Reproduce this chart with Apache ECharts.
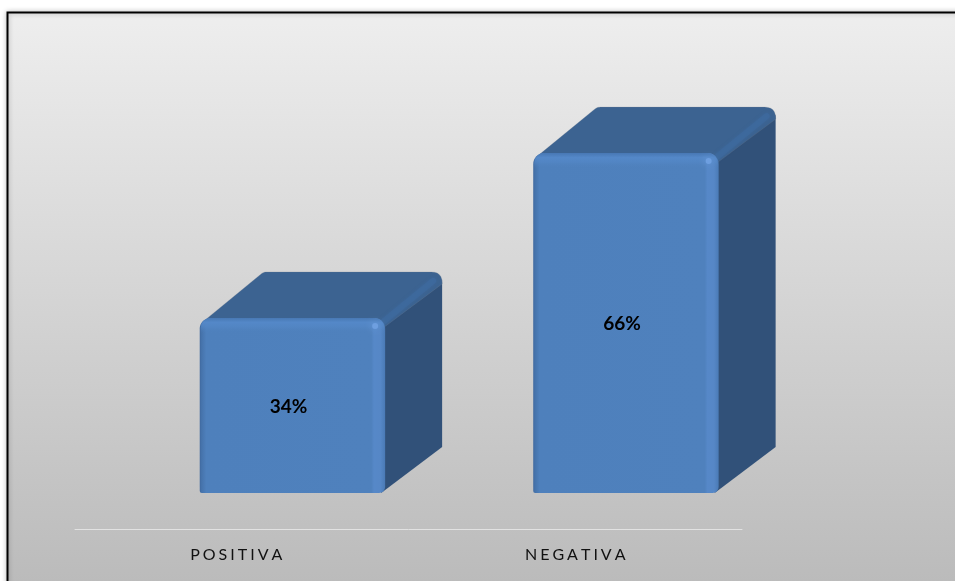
<!DOCTYPE html>
<html><head><meta charset="utf-8">
<style>html,body{margin:0;padding:0;background:#fff}#c{width:955px;height:581px}</style>
<script src="https://cdn.jsdelivr.net/npm/echarts@6/dist/echarts.min.js"></script>
</head><body><div id="c"></div>
<script>
var categories = ['POSITIVA', 'NEGATIVA'];
var values = [34, 66];
var labels = ['34%', '66%'];

function lin(x0, y0, x1, y1, stops) {
  return new echarts.graphic.LinearGradient(x0, y0, x1, y1, stops.map(function (s) { return { offset: s[0], color: s[1] }; }));
}
function roundPoly(pts, radii) {
  var out = [], n = pts.length;
  pts.forEach(function (p, i) {
    var r = radii[i];
    if (!r) { out.push(p); return; }
    var a = pts[(i + n - 1) % n], b = pts[(i + 1) % n];
    var la = Math.hypot(a[0] - p[0], a[1] - p[1]), lb = Math.hypot(b[0] - p[0], b[1] - p[1]);
    var s = [p[0] + (a[0] - p[0]) * r / la, p[1] + (a[1] - p[1]) * r / la];
    var e = [p[0] + (b[0] - p[0]) * r / lb, p[1] + (b[1] - p[1]) * r / lb];
    for (var k = 0; k <= 6; k++) {
      var t = k / 6, u = 1 - t;
      out.push([u * u * s[0] + 2 * u * t * p[0] + t * t * e[0], u * u * s[1] + 2 * u * t * p[1] + t * t * e[1]]);
    }
  });
  return out;
}
function renderBar(params, api) {
  var idx = api.value(0), val = api.value(1);
  var base = api.coord([idx, 0]), top = api.coord([idx, val]);
  var band = api.size([1, 0])[0];
  var w = band * 0.556, shiftX = band * 0.152, shiftY = -36, dx = 57, dy = -46;
  var x0 = base[0] + shiftX - w / 2, x1 = x0 + w;
  var yb = base[1] + shiftY, yt = top[1] + shiftY;
  var h = yb - yt;
  return {
    type: 'group',
    children: [
      { type: 'polygon', shape: { points: [[x1 - 4, yb], [x1 + dx, yb + dy], [x1 + dx, yt + dy + 8], [x1 - 6, yt + 6]] },
        style: { fill: '#315179' } },
      { type: 'polygon', shape: { points: roundPoly([[x0 + 3, yt + 4], [x0 + dx + 7, yt + dy], [x1 + dx, yt + dy], [x1 + dx, yt + dy + 12], [x1 - 2, yt + 10]], [0, 3, 11, 0, 0]) },
        style: { fill: '#3c6391', stroke: 'rgba(120,130,145,0.45)', lineWidth: 0.5 } },
      { type: 'line', shape: { x1: x1 - 2, y1: yt + 4, x2: x1 + dx - 9, y2: yt + dy + 9 },
        style: { stroke: '#3d6a9d', lineWidth: 6, lineCap: 'round', opacity: 0.75, shadowBlur: 3, shadowColor: '#3d6a9d' } },
      { type: 'rect', shape: { x: x0, y: yt, width: w, height: h, r: [11, 11, 6, 2] },
        style: { fill: lin(0, 0, 1, 0, [[0, '#3f689e'], [0.008, '#4572aa'], [0.035, '#4e80bc'], [0.925, '#4f81bd'], [0.94, '#5688c8'], [0.975, '#5687c6'], [1, '#4a7ab5']]) } },
      { type: 'rect', shape: { x: x0 + 1, y: yt, width: w - 2, height: 15, r: [10, 10, 0, 0] },
        style: { fill: lin(0, 0, 0, 1, [[0, '#4878b4'], [0.3, '#5488c8'], [0.6, 'rgba(84,136,200,0.6)'], [1, 'rgba(79,129,189,0)']]) } },
      { type: 'circle', shape: { cx: x1 - 10, cy: yt + 8, r: 3 },
        style: { fill: '#6e9fe0', shadowBlur: 7, shadowColor: '#6e9fe0' } },
      { type: 'text', x: x0 + w / 2 - 4, y: yt + h / 2 + 1,
        style: { text: labels[idx], font: 'bold 19px Lato', fill: '#000', align: 'center', verticalAlign: 'middle' } }
    ]
  };
}

var chart = echarts.init(document.getElementById('c'), null, { renderer: 'canvas' });
chart.setOption({
  animation: false,
  backgroundColor: '#ffffff',
  graphic: [{
    type: 'rect', z: -1, silent: true,
    shape: { x: 7.5, y: 12.5, width: 960, height: 580 },
    style: { fill: lin(0, 0, 0, 1, [[0, '#eeeeee'], [1, '#bababa']]), stroke: '#000', lineWidth: 2, shadowBlur: 5, shadowColor: 'rgba(0,0,0,0.3)' }
  }],
  grid: { left: 75, right: 213, top: 14, bottom: 52 },
  xAxis: {
    type: 'category',
    data: [{ value: categories[0], textStyle: { padding: [0, 11, 0, 0] } }, { value: categories[1] }],
    axisLine: { show: true, lineStyle: { color: '#e2e2e2', width: 1 } },
    axisTick: { show: false },
    axisLabel: { margin: 18, fontFamily: 'Lato', fontSize: 16, color: '#111',
      formatter: function (v) { return v.split('').join('\u2009\u200a'); } }
  },
  yAxis: { type: 'value', min: 0, max: 100, show: false },
  series: [{
    type: 'custom', renderItem: renderBar, clip: false,
    data: categories.map(function (c, i) { return [i, values[i]]; })
  }]
});
</script></body></html>
